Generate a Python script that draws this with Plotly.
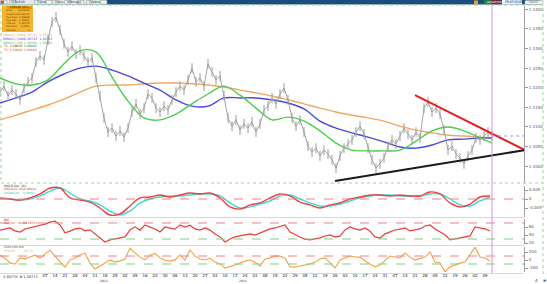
import plotly.graph_objects as go

W, H = 547, 284


def px(x):
    return x / W


def py(y):
    return 1 - y / H


# ---------------- data ----------------
price_x = list(range(0, 493, 4))
price_close = [
    1.3189, 1.3204, 1.3179, 1.3194, 1.3184, 1.3169, 1.3199, 1.3215, 1.3225, 1.3266,
    1.3281, 1.3271, 1.3322, 1.3368, 1.3380, 1.3347, 1.3312, 1.3291, 1.3306, 1.3286,
    1.3296, 1.3281, 1.3266, 1.3276, 1.3225, 1.3179, 1.3123, 1.3087, 1.3097, 1.3077,
    1.3090, 1.3074, 1.3097, 1.3138, 1.3159, 1.3133, 1.3148, 1.3184, 1.3174, 1.3148,
    1.3138, 1.3153, 1.3143, 1.3169, 1.3189, 1.3204, 1.3194, 1.3220, 1.3250, 1.3215,
    1.3225, 1.3204, 1.3261, 1.3240, 1.3220, 1.3230, 1.3179, 1.3123, 1.3102, 1.3118,
    1.3092, 1.3108, 1.3097, 1.3113, 1.3087, 1.3108, 1.3143, 1.3153, 1.3174, 1.3159,
    1.3184, 1.3199, 1.3169, 1.3123, 1.3102, 1.3118, 1.3087, 1.3051, 1.3036, 1.3046,
    1.3026, 1.3041, 1.3031, 1.3016, 1.2995, 1.3026, 1.3046, 1.3057, 1.3067, 1.3087,
    1.3102, 1.3082, 1.3046, 1.3016, 1.2995, 1.3006, 1.3021, 1.3051, 1.3067, 1.3057,
    1.3077, 1.3097, 1.3082, 1.3067, 1.3087, 1.3072, 1.3148, 1.3164, 1.3138, 1.3148,
    1.3133, 1.3092, 1.3041, 1.3051, 1.3031, 1.3021, 1.3006, 1.3026, 1.3041, 1.3072,
    1.3067, 1.3077, 1.3087, 1.3077,
]

ma_x = list(range(0, 481, 16)) + [492]
ma50 = [1.3225, 1.3210, 1.3207, 1.3220, 1.3261, 1.3294, 1.3291, 1.3227, 1.3166, 1.3123,
        1.3118, 1.3133, 1.3159, 1.3184, 1.3204, 1.3181, 1.3148, 1.3118, 1.3125, 1.3115,
        1.3090, 1.3059, 1.3041, 1.3039, 1.3039, 1.3041, 1.3064, 1.3090, 1.3100, 1.3090,
        1.3072, 1.3059]
ma100 = [1.3161, 1.3174, 1.3189, 1.3215, 1.3235, 1.3250, 1.3255, 1.3245, 1.3230, 1.3212,
         1.3194, 1.3169, 1.3153, 1.3153, 1.3174, 1.3174, 1.3174, 1.3169, 1.3161, 1.3146,
         1.3115, 1.3097, 1.3085, 1.3074, 1.3062, 1.3049, 1.3046, 1.3054, 1.3067, 1.3069,
         1.3072, 1.3072]
ma200 = [1.3118, 1.3130, 1.3143, 1.3156, 1.3171, 1.3189, 1.3204, 1.3207, 1.3207, 1.3210,
         1.3212, 1.3212, 1.3210, 1.3207, 1.3202, 1.3194, 1.3187, 1.3179, 1.3169, 1.3159,
         1.3148, 1.3138, 1.3130, 1.3123, 1.3115, 1.3102, 1.3092, 1.3085, 1.3079, 1.3077,
         1.3074, 1.3072]

resist_x = [415, 525]
resist_y = [1.3181, 1.3041]
support_x = [335, 525]
support_y = [1.2962, 1.3041]
last_x = [492, 527]
last_price = 1.3077

price_ticks = [1.3000, 1.3050, 1.3100, 1.3150, 1.3200, 1.3250, 1.3300, 1.3350, 1.3400]

osc_x = list(range(0, 491, 10))
macd = [0.0006, 0.0, -0.0006, 0.0006, 0.0028, 0.0061, 0.0061, 0.0006, -0.0006, -0.0017,
        -0.0050, -0.0089, -0.0083, -0.0039, 0.0006, 0.0011, 0.0022, 0.0011, 0.0022, 0.0033,
        0.0028, 0.0033, 0.0006, -0.0044, -0.0056, -0.0033, -0.0022, 0.0006, 0.0028, 0.0017,
        -0.0017, -0.0033, -0.0050, -0.0033, -0.0022, 0.0, 0.0011, 0.0022, 0.0022, 0.0017,
        0.0022, 0.0017, 0.0017, 0.0039, 0.0028, -0.0022, -0.0044, -0.0028, 0.0011, 0.0017]
signal = [0.0, 0.0, -0.0006, 0.0, 0.0017, 0.0044, 0.0061, 0.0033, 0.0, -0.0011,
          -0.0033, -0.0067, -0.0089, -0.0067, -0.0022, 0.0, 0.0011, 0.0017, 0.0017, 0.0022,
          0.0028, 0.0028, 0.0017, -0.0022, -0.0050, -0.0044, -0.0028, -0.0011, 0.0017, 0.0022,
          0.0, -0.0022, -0.0039, -0.0039, -0.0028, -0.0011, 0.0006, 0.0017, 0.0022, 0.0022,
          0.0017, 0.0017, 0.0017, 0.0028, 0.0028, 0.0, -0.0033, -0.0039, -0.0011, 0.0011]
macd_ticks = [0.005, 0.0, -0.005]
macd_labels = ["0.005", "0", "-0.005"]

ind_x = list(range(0, 491, 5))
rsi = [52.4, 54.8, 57.6, 50.3, 47.2, 55.1, 57.9, 60.2, 64.7, 67.3,
       72.1, 74.6, 65.2, 45.3, 49.8, 55.4, 57.3, 50.6, 52.9, 42.7,
       32.8, 22.4, 27.9, 30.2, 32.6, 35.3, 52.7, 60.4, 52.2, 64.9,
       59.7, 55.2, 47.6, 60.1, 57.4, 54.7, 65.3, 59.8, 64.6, 55.3,
       52.5, 57.7, 52.3, 42.4, 35.2, 22.7, 30.1, 35.4, 37.8, 40.2,
       42.6, 39.7, 45.1, 49.8, 55.2, 57.6, 62.3, 65.1, 47.4, 40.3,
       35.1, 29.8, 27.6, 30.4, 32.7, 37.6, 40.1, 34.8, 37.3, 52.6,
       60.3, 55.4, 52.2, 57.5, 49.7, 35.2, 32.4, 42.8, 47.3, 52.6,
       54.9, 57.8, 50.2, 52.4, 55.1, 62.6, 65.2, 54.8, 47.5, 40.4,
       27.7, 30.3, 32.5, 35.2, 37.6, 60.2, 57.4, 55.3, 50.1]
rsi_ticks = [60, 40, 20]
cci = [118, 46, -72, -104, 52, 28, 73, 122, 48, 147,
       246, 96, -54, -178, 4, 51, 124, 172, -78, -226,
       -148, -74, -3, -47, -22, 26, 298, 177, 71, 2,
       121, 168, 53, -6, -27, 3, 126, -2, 251, 97,
       24, -1, 49, -52, -98, -203, -172, -127, -76, -24,
       1, -49, -152, 27, 48, 102, 98, 47, -176, -173,
       -149, -124, -101, -53, 26, 52, -77, -198, 3, 49,
       101, 76, 73, -26, -97, -174, -126, -23, 99, 74,
       51, 176, 72, -2, 27, 74, 203, -51, -77, -296,
       -174, -123, -78, -52, 127, 322, 73, 48, -28]
cci_ticks = [200, 0, -200]

date_x = list(range(45, 486, 10))
date_labels = ["07", "14", "21", "28", "04", "11", "18", "25", "02", "09",
               "16", "23", "30", "06", "13", "20", "27", "03", "10", "17",
               "24", "01", "08", "15", "22", "29", "05", "12", "19", "26",
               "03", "10", "17", "24", "31", "07", "14", "21", "28", "05",
               "12", "19", "26", "02", "09"]

# ---------------- figure ----------------
fig = go.Figure()
XD = [0, 524 / W]

fig.add_trace(go.Scatter(x=ma_x, y=ma200, mode="lines", line=dict(color="#f5a560", width=1.4, shape="spline"), yaxis="y"))
fig.add_trace(go.Scatter(x=ma_x, y=ma100, mode="lines", line=dict(color="#4848e0", width=1.4, shape="spline"), yaxis="y"))
fig.add_trace(go.Scatter(x=ma_x, y=ma50, mode="lines", line=dict(color="#48d048", width=1.4, shape="spline"), yaxis="y"))
fig.add_trace(go.Scatter(x=price_x, y=price_close, mode="lines+markers",
                         line=dict(color="#9a9a9a", width=0.9),
                         marker=dict(symbol="line-ns-open", size=7, line=dict(color="#a8a8a8", width=1)),
                         yaxis="y"))
fig.add_trace(go.Scatter(x=resist_x, y=resist_y, mode="lines", line=dict(color="#e81c1c", width=2), yaxis="y"))
fig.add_trace(go.Scatter(x=support_x, y=support_y, mode="lines", line=dict(color="#1a1a1a", width=2), yaxis="y"))
fig.add_trace(go.Scatter(x=last_x, y=[last_price, last_price], mode="lines", line=dict(color="#8fa8d8", width=1, dash="dot"), yaxis="y"))

fig.add_trace(go.Scatter(x=osc_x, y=signal, mode="lines", line=dict(color="#40d8d8", width=1.4, shape="spline"), yaxis="y2"))
fig.add_trace(go.Scatter(x=osc_x, y=macd, mode="lines", line=dict(color="#f04040", width=1.4, shape="spline"), yaxis="y2"))
fig.add_trace(go.Scatter(x=ind_x, y=rsi, mode="lines", line=dict(color="#ee3b3b", width=1.2), yaxis="y3"))
fig.add_trace(go.Scatter(x=ind_x, y=cci, mode="lines", line=dict(color="#f5a040", width=1.1), yaxis="y4"))

axis_common = dict(side="right", anchor="x", showgrid=False, zeroline=False, showline=True,
                   linecolor="#a0a0a0", linewidth=1, ticks="outside", ticklen=3, tickcolor="#999",
                   tickfont=dict(size=4, color="#555", family="DejaVu Sans"), fixedrange=True)

fig.update_layout(
    width=W, height=H, autosize=False,
    margin=dict(l=0, r=0, t=0, b=0),
    paper_bgcolor="white", plot_bgcolor="white",
    showlegend=False,
    xaxis=dict(domain=XD, range=[0, 524], anchor="y4", showgrid=False, zeroline=False,
               showline=False, ticks="", tickvals=date_x, ticktext=date_labels,
               tickfont=dict(size=4, color="#111", family="DejaVu Sans"), fixedrange=True),
    yaxis=dict(domain=[py(183), py(6)], range=[1.29571, 1.34084], tickvals=price_ticks,
               ticktext=[f"{v:.4f}" for v in price_ticks], **axis_common),
    yaxis2=dict(domain=[py(217), py(186)], range=[-0.0100, 0.00722], tickvals=macd_ticks,
                ticktext=macd_labels, **axis_common),
    yaxis3=dict(domain=[py(244), py(219)], range=[17.5, 80], tickvals=rsi_ticks,
                ticktext=[str(v) for v in rsi_ticks], **axis_common),
    yaxis4=dict(domain=[py(272), py(247)], range=[-300, 325], tickvals=cci_ticks,
                ticktext=[str(v) for v in cci_ticks], **axis_common),
)

shapes = []


def rect(x0, y0, x1, y1, fill, line=None, lw=0, dash=None):
    shapes.append(dict(type="rect", xref="paper", yref="paper", x0=px(x0), x1=px(x1), y0=py(y1), y1=py(y0),
                       fillcolor=fill, line=dict(color=line or fill, width=lw, dash=dash), layer="above"))


def hline_paper(x0, x1, y, color, dash=None, w=1):
    shapes.append(dict(type="line", xref="paper", yref="paper", x0=px(x0), x1=px(x1), y0=py(y), y1=py(y),
                       line=dict(color=color, width=w, dash=dash)))


# toolbar
rect(0, 0, 540, 4.5, "#1d4b84")
rect(0, 0, 106, 4.5, "#e6e9ee")
for bx in [0, 9, 34, 45, 52, 64, 77, 86, 100]:
    rect(bx + 0.5, 0.5, bx + 7, 4, "#f5f5f5", "#9aa4b4", 0.6)
rect(0.8, 0.8, 4, 3.8, "#e05020")
rect(474, 0.5, 478, 4, "#f0a020")
rect(484, 0.4, 492, 4.2, "#2a8a2a")
rect(492, 0.4, 500, 4.2, "#a01818")
rect(502, 0, 522, 4.5, "#eef1f6")
rect(525, 0.5, 543, 4.5, "#f2f2f2", "#aaaaaa", 0.6)

# panel frames
shapes.append(dict(type="rect", xref="paper", yref="paper", x0=px(1), x1=px(543), y0=py(183), y1=py(5),
                   line=dict(color="#8fe08f", width=1, dash="dot")))
shapes.append(dict(type="line", xref="paper", yref="paper", x0=px(543), x1=px(543), y0=py(274), y1=py(183),
                   line=dict(color="#8fe08f", width=1, dash="dot")))
hline_paper(0, 524, 217.5, "#d8d8d8")
hline_paper(0, 524, 245.5, "#d8d8d8")
hline_paper(0, 524, 273.5, "#d8d8d8")

# indicator reference lines
for yref, val, col in [("y2", 0.0, "#f08080"), ("y3", 70, "#f08080"), ("y3", 30, "#80d080"),
                       ("y4", 100, "#f08080"), ("y4", -100, "#80d080")]:
    shapes.append(dict(type="line", xref="paper", yref=yref, x0=0, x1=524 / W, y0=val, y1=val,
                       line=dict(color=col, width=1, dash="dash")))

# cursor line
shapes.append(dict(type="line", xref="x", yref="paper", x0=492, x1=492, y0=py(273), y1=py(5),
                   line=dict(color="#d890e0", width=1)))

# legend box
rect(2, 5.5, 33, 32, "#f4b42c")
rect(7, 6.2, 32, 9.0, "#e39a10")

fig.update_layout(shapes=shapes)

ann = []


def txt(x, y, s, color="#222", size=4, anchor="left"):
    ann.append(dict(x=px(x), y=py(y), xref="paper", yref="paper", text=s, showarrow=False,
                    xanchor=anchor, yanchor="middle", font=dict(size=size, color=color, family="DejaVu Sans")))


txt(9, 2.4, "SERVEUR", "#334", 3)
txt(35, 2.4, "Fichier", "#334", 3)
txt(53, 2.4, "Outils", "#334", 3)
txt(65, 2.4, "Affichage", "#334", 3)
txt(87, 2.4, "Fenêtre", "#334", 3)
txt(485, 2.4, "ACHAT", "#ffffff", 2.6)
txt(493, 2.4, "VENTE", "#ffffff", 2.6)
txt(503, 2.4, "PRATIQUE", "#2a3a9a", 3.5)
txt(527, 2.4, "Démo", "#666", 3)

txt(19.5, 7.6, "EURUSD (Jour)", "#3a2a00", 2.6, "center")
rows = [("Date", "01/04/14"), ("Ouverture", "1.30712"), ("Plus haut", "1.30904"), ("Plus bas", "1.30612"),
        ("Clôture", "1.30770"), ("Variation", "0.05%"), ("Volume", "0")]
for i, (k, v) in enumerate(rows):
    yy = 11 + i * 3.2
    txt(4, yy, k, "#5a4000", 2.5)
    txt(31.5, yy, v, "#3a2a00", 2.5, "right")

txt(1, 34.7, "MMA(C) (200)", "#f0a050", 3.2)
txt(22, 34.7, "1.30721  1.30721", "#f0a050", 3.2)
txt(1, 38.7, "MMA(C) (100)", "#4040e0", 3.2)
txt(22, 38.7, "1.30723  1.30723", "#4040e0", 3.2)
txt(1, 42.7, "MMA(C) (50)", "#40c040", 3.2)
txt(22, 42.7, "1.30591  1.30591", "#40c040", 3.2)
txt(1, 46.4, "T1  1.29620  1.30410", "#205020", 3)
txt(1, 50, "T2  1.31810  1.30410", "#e02020", 3)

txt(2, 185.6, "MACD Osc. Div.", "#333", 3)
txt(2, 189.1, "MACD(12,26)", "#e03030", 3)
txt(21, 189.1, "-0.00012", "#e03030", 3)
txt(2, 192.6, "SIGNAL(9)", "#30c0c0", 3)
txt(21, 192.6, "0.00041", "#30c0c0", 3)
txt(2, 220, "RSI", "#333", 3)
txt(2, 223.4, "RSI(14)", "#e03030", 3)
txt(21, 223.4, "50.1072", "#e03030", 3)
txt(2, 247.3, "Com.Chn.Ind.", "#333", 3)
txt(2, 251, "CCI(20)", "#f0a040", 3)
txt(21, 251, "-28.74", "#f0a040", 3)

txt(1, 277, "1.30770  B 1.30772", "#111", 3.5)
txt(98, 281.2, "2013", "#333", 3)
txt(237, 281.2, "2014", "#333", 3)
rect(533, 277, 540, 283.5, "#dfe6f5", "#5070c0", 0.6)
txt(536.5, 280.3, "A", "#2040a0", 4, "center")
txt(540.5, 280.3, "≡", "#2040a0", 4)

fig.update_layout(annotations=ann)

fig.write_html("out.html")
